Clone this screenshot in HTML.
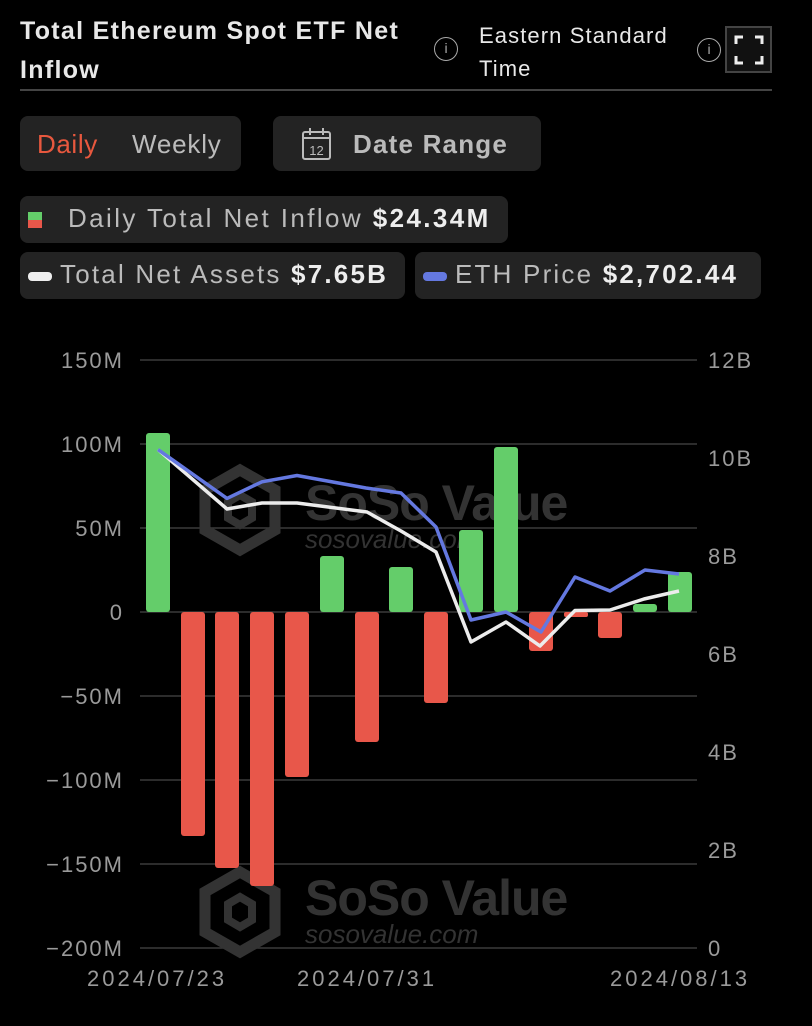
<!DOCTYPE html>
<html><head><style>
body{margin:0;width:812px;height:1026px;background:#000;overflow:hidden;font-family:"Liberation Sans",sans-serif;color:#e6e6e6;position:relative}
.a{position:absolute;white-space:nowrap}
.box{position:absolute;background:#232323;border-radius:8px}
</style></head><body>
<div class="a" style="left:20px;top:12px;font-size:25px;font-weight:bold;line-height:39px;color:#e8e8e8;width:420px;white-space:normal;letter-spacing:1.3px">Total Ethereum Spot ETF Net Inflow</div>
<div class="a" style="left:434px;top:37px;width:24px;height:24px;border:1.5px solid #aaa;border-radius:50%;box-sizing:border-box;font-size:14px;text-align:center;line-height:21px;color:#aaa">i</div>
<div class="a" style="left:479px;top:19px;font-size:22px;line-height:33px;color:#e8e8e8;width:210px;white-space:normal;letter-spacing:1.1px">Eastern Standard Time</div>
<div class="a" style="left:697px;top:38px;width:24px;height:24px;border:1.5px solid #aaa;border-radius:50%;box-sizing:border-box;font-size:14px;text-align:center;line-height:21px;color:#aaa">i</div>
<div class="a" style="left:725px;top:26px;width:47px;height:47px;border:2px solid #444;box-sizing:border-box;background:#111"></div>
<svg class="a" style="left:734px;top:35px" width="30" height="30"><path d="M2 9V2H9M21 2H28V9M28 21V28H21M9 28H2V21" stroke="#eee" stroke-width="3" fill="none"/></svg>
<div class="a" style="left:20px;top:89px;width:752px;height:2px;background:#444"></div>
<div class="box" style="left:20px;top:116px;width:221px;height:55px"></div>
<div class="a" style="left:37px;top:129px;font-size:26px;color:#e8583e;letter-spacing:0.6px">Daily</div>
<div class="a" style="left:132px;top:129px;font-size:26px;color:#bbb;letter-spacing:0.8px">Weekly</div>
<div class="box" style="left:273px;top:116px;width:268px;height:55px"></div>
<svg class="a" style="left:301px;top:127px" width="32" height="34"><rect x="2" y="5" width="27" height="27" rx="2" fill="none" stroke="#bbb" stroke-width="2"/><line x1="2" y1="11" x2="29" y2="11" stroke="#bbb" stroke-width="2"/><line x1="9" y1="1" x2="9" y2="8" stroke="#bbb" stroke-width="2"/><line x1="22" y1="1" x2="22" y2="8" stroke="#bbb" stroke-width="2"/><text x="15.5" y="28" font-size="13" fill="#bbb" text-anchor="middle" font-family="Liberation Sans">12</text></svg>
<div class="a" style="left:353px;top:129px;font-size:26px;font-weight:bold;color:#bbb;letter-spacing:1.2px">Date Range</div>
<div class="box" style="left:20px;top:196px;width:488px;height:47px"></div>
<div class="a" style="left:28px;top:212px;width:14px;height:8px;background:#64cd6a"></div>
<div class="a" style="left:28px;top:220px;width:14px;height:8px;background:#e8574a"></div>
<div class="a" style="left:68px;top:203px;font-size:26px;color:#bbb;letter-spacing:2.4px">Daily Total Net Inflow <b style="color:#eee">$24.34M</b></div>
<div class="box" style="left:20px;top:252px;width:385px;height:47px"></div>
<div class="a" style="left:28px;top:272px;width:24px;height:9px;border-radius:4px;background:#eee"></div>
<div class="a" style="left:60px;top:259px;font-size:26px;color:#bbb;letter-spacing:2.2px">Total Net Assets <b style="color:#eee">$7.65B</b></div>
<div class="box" style="left:415px;top:252px;width:346px;height:47px"></div>
<div class="a" style="left:423px;top:272px;width:24px;height:9px;border-radius:4px;background:#6478e0"></div>
<div class="a" style="left:455px;top:259px;font-size:26px;color:#bbb;letter-spacing:2.2px">ETH Price <b style="color:#eee">$2,702.44</b></div>
<svg class="a" style="left:0;top:0" width="812" height="1026" font-family="Liberation Sans">
<g stroke="#3a3a3a" stroke-width="1.5">
<line x1="140" y1="360" x2="697" y2="360"/><line x1="140" y1="444" x2="697" y2="444"/><line x1="140" y1="528" x2="697" y2="528"/><line x1="140" y1="612" x2="697" y2="612"/><line x1="140" y1="696" x2="697" y2="696"/><line x1="140" y1="780" x2="697" y2="780"/><line x1="140" y1="864" x2="697" y2="864"/><line x1="140" y1="948" x2="697" y2="948"/>
</g>
<g fill="#9a9a9a" font-size="22" text-anchor="end" letter-spacing="2">
<text x="124" y="368">150M</text><text x="124" y="452">100M</text><text x="124" y="536">50M</text><text x="124" y="620">0</text><text x="124" y="704">−50M</text><text x="124" y="788">−100M</text><text x="124" y="872">−150M</text><text x="124" y="956">−200M</text>
</g>
<g fill="#9a9a9a" font-size="22" letter-spacing="2">
<text x="708" y="368">12B</text><text x="708" y="466">10B</text><text x="708" y="564">8B</text><text x="708" y="662">6B</text><text x="708" y="760">4B</text><text x="708" y="858">2B</text><text x="708" y="956">0</text>
</g>
<g fill="#9a9a9a" font-size="22" letter-spacing="3">
<text x="87" y="986">2024/07/23</text><text x="297" y="986">2024/07/31</text><text x="610" y="986">2024/08/13</text>
</g>
<g fill="#333">
<g transform="translate(240,510)"><polygon points="0,-40 35,-20 35,20 0,40 -35,20 -35,-20" fill="none" stroke="#333" stroke-width="11"/><polygon points="-12,-8 0,-15 12,-8 12,8 0,15 -12,8" fill="none" stroke="#333" stroke-width="8"/></g>
<text x="305" y="520" font-size="50" font-weight="bold" letter-spacing="-1">SoSo Value</text>
<text x="305" y="548" font-size="26" font-style="italic">sosovalue.com</text>
<g transform="translate(240,912)"><polygon points="0,-40 35,-20 35,20 0,40 -35,20 -35,-20" fill="none" stroke="#333" stroke-width="11"/><polygon points="-12,-8 0,-15 12,-8 12,8 0,15 -12,8" fill="none" stroke="#333" stroke-width="8"/></g>
<text x="305" y="915" font-size="50" font-weight="bold" letter-spacing="-1">SoSo Value</text>
<text x="305" y="943" font-size="26" font-style="italic">sosovalue.com</text>
</g>
<g fill="#64cd6a">
<rect x="146" y="433" width="24" height="179" rx="3"/>
<rect x="320" y="556" width="24" height="56" rx="3"/>
<rect x="389" y="567" width="24" height="45" rx="3"/>
<rect x="459" y="530" width="24" height="82" rx="3"/>
<rect x="494" y="447" width="24" height="165" rx="3"/>
<rect x="633" y="604" width="24" height="8" rx="3"/>
<rect x="668" y="572" width="24" height="40" rx="3"/>
</g>
<g fill="#e8574a">
<rect x="181" y="612" width="24" height="224" rx="3"/>
<rect x="215" y="612" width="24" height="256" rx="3"/>
<rect x="250" y="612" width="24" height="274" rx="3"/>
<rect x="285" y="612" width="24" height="165" rx="3"/>
<rect x="355" y="612" width="24" height="130" rx="3"/>
<rect x="424" y="612" width="24" height="91" rx="3"/>
<rect x="529" y="612" width="24" height="39" rx="3"/>
<rect x="564" y="612" width="24" height="5" rx="2"/>
<rect x="598" y="612" width="24" height="26" rx="3"/>
</g>
<polyline fill="none" stroke="#ececec" stroke-width="3.5" stroke-linejoin="round" points="158,449.6 227,509 262,503 297,503 367,512 401,531 436,552 471,642 506,622 540,646 575,610.5 610,610 644,599 679,591"/>
<polyline fill="none" stroke="#6478e0" stroke-width="3.5" stroke-linejoin="round" points="158,449.6 227,498.4 262,481.8 297,475.5 366,488 401,493 436,527 471,620 506,612 541,632 575,577 610,591 645,570 679,574"/>
</svg>
</body></html>
